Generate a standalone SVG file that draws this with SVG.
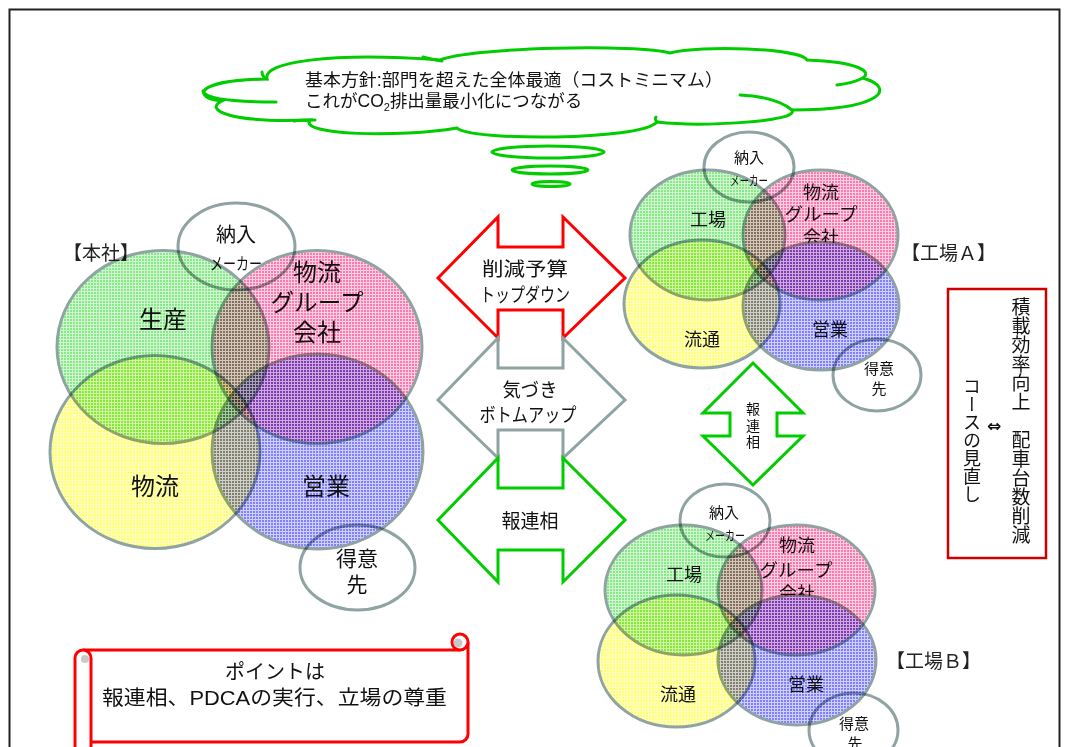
<svg xmlns="http://www.w3.org/2000/svg" width="1067" height="747" viewBox="0 0 1067 747">
<style>
.c{stroke:#8fa3a3;stroke-width:3;mix-blend-mode:multiply}
.w{fill:#fff;stroke:#8fa3a3;stroke-width:3}
.t{font-family:'Liberation Sans','Noto Sans CJK JP',sans-serif;fill:#111;text-anchor:middle}
.ts{font-family:'Liberation Serif','Noto Sans CJK JP',serif;fill:#222}
.arr{fill:#fff;stroke-width:3;stroke-linejoin:miter}
.cl{fill:none;stroke:#00cc00;stroke-width:3;stroke-linecap:round}
</style>
<defs>
<pattern id="pG" width="3" height="3" patternUnits="userSpaceOnUse"><rect width="3" height="3" fill="#86e886"/><path d="M0,0.5H3M0.5,0V3" stroke="#d2f6d2" stroke-width="1"/></pattern>
<pattern id="pP" width="3" height="3" patternUnits="userSpaceOnUse"><rect width="3" height="3" fill="#fc7aae"/><path d="M0,0.5H3M0.5,0V3" stroke="#ffd0e2" stroke-width="1"/></pattern>
<pattern id="pY" width="3" height="3" patternUnits="userSpaceOnUse"><rect width="3" height="3" fill="#ffff70"/><path d="M0,0.5H3M0.5,0V3" stroke="#ffffc8" stroke-width="1"/></pattern>
<pattern id="pB" width="3" height="3" patternUnits="userSpaceOnUse"><rect width="3" height="3" fill="#8080ff"/><path d="M0,0.5H3M0.5,0V3" stroke="#d0d0ff" stroke-width="1"/></pattern>
<clipPath id="clipA"><path clip-rule="evenodd" d="M700,150H950V400H700Z M743,306a78,64 0 1,0 156,0a78,64 0 1,0 -156,0Z"/></clipPath>
<clipPath id="clipB"><path clip-rule="evenodd" d="M700,500H950V760H700Z M718,660a79,65 0 1,0 158,0a79,65 0 1,0 -158,0Z"/></clipPath>
</defs>
<rect width="1067" height="747" fill="#fff"/>
<rect x="9.5" y="9.5" width="1050" height="800" fill="none" stroke="#222" stroke-width="2"/>

<g id="cloud">
<path d="M222,101 C192,98 193,80 267,79 C262,62 330,52 440,60 C470,47 640,44 670,53 C700,45 800,48 807,60 C860,62 872,72 863,78 C897,88 882,110 792,110 C800,122 700,127 657,122 C640,141 470,141 457,128 C400,138 298,135 310,120 C230,123 203,110 222,101 Z" fill="#fff" stroke="#00cc00" stroke-width="3"/>
<path class="cl" d="M203,91 C206,100 240,102 276,102"/>
<path class="cl" d="M262,72 C262,76 265,78 267,79"/>
<path class="cl" d="M294,121 C300,120 305,120 315,120"/>
<path class="cl" d="M423,57 C430,59 436,60 442,61"/>
<path class="cl" d="M863,78 C855,82 846,84 837,85"/>
<path class="cl" d="M792,110 C780,100 760,96 740,95"/>
<path class="cl" d="M657,122 C655,120 655,118 656,117"/>
<ellipse cx="548" cy="152" rx="56" ry="6" class="cl"/>
<ellipse cx="550" cy="170" rx="38" ry="4" class="cl"/>
<ellipse cx="551" cy="184" rx="19" ry="2.5" class="cl"/>
<text class="t" style="text-anchor:start" x="305" y="86" font-size="17.5" textLength="418" lengthAdjust="spacingAndGlyphs">基本方針:部門を超えた全体最適（コストミニマム）</text>
<text class="t" style="text-anchor:start" x="305" y="107" font-size="17.5">これがCO<tspan font-size="11" dy="4">2</tspan><tspan dy="-4">排出量最小化につながる</tspan></text>
</g>

<g id="honsha">
<text class="ts" x="63" y="260" font-size="19">【本社】</text>
<g id="honsha-nonyu"><ellipse class="w" cx="236.5" cy="246.5" rx="58.5" ry="43.5"/>
<text class="t" x="236" y="242" font-size="20">納入</text>
<text class="t" x="236" y="270" font-size="17" textLength="52" lengthAdjust="spacingAndGlyphs">メーカー</text></g>
<g id="honsha-tokui"><ellipse class="w" cx="357.5" cy="567.5" rx="57.5" ry="42.5"/>
<text class="t" x="357" y="566" font-size="21">得意</text>
<text class="t" x="357" y="592" font-size="21">先</text></g>
<g id="honsha-seisan"><ellipse class="c" fill="url(#pG)" cx="163" cy="347" rx="106" ry="96.5"/>
<text class="t" x="163" y="328" font-size="24">生産</text></g>
<g id="honsha-group"><ellipse class="c" fill="url(#pP)" cx="317" cy="347" rx="105" ry="96.5"/>
<text class="t" x="317" y="281" font-size="24">物流</text>
<text class="t" x="317" y="311" font-size="24" textLength="93" lengthAdjust="spacingAndGlyphs">グループ</text>
<text class="t" x="317" y="341" font-size="24">会社</text></g>
<g id="honsha-butsuryu"><ellipse class="c" fill="url(#pY)" cx="155" cy="452" rx="105" ry="96.5"/>
<text class="t" x="155" y="495" font-size="24">物流</text></g>
<g id="honsha-eigyo"><ellipse class="c" fill="url(#pB)" cx="317.5" cy="451.5" rx="105.5" ry="97.5"/>
<text class="t" x="326" y="495" font-size="24">営業</text></g>
</g>

<g id="arrow-topdown">
<path class="arr" stroke="#ff0000" d="M438,278 L498,217 V247 H563 V217 L625,278 L563,338 V310 H498 V338 Z"/>
<text class="t" x="525" y="276" font-size="19" textLength="86" lengthAdjust="spacingAndGlyphs">削減予算</text>
<text class="t" x="525" y="302" font-size="19" textLength="90" lengthAdjust="spacingAndGlyphs">トップダウン</text>
</g>
<g id="arrow-bottomup">
<path class="arr" stroke="#8fa3a3" d="M438,400 L498,338 V368 H563 V338 L625,400 L563,458 V430 H498 V458 Z"/>
<text class="t" x="530" y="397" font-size="19" textLength="55" lengthAdjust="spacingAndGlyphs">気づき</text>
<text class="t" x="528" y="422" font-size="19" textLength="97" lengthAdjust="spacingAndGlyphs">ボトムアップ</text>
</g>
<g id="arrow-hourensou">
<path class="arr" stroke="#00cc00" d="M438,520 L498,458 V488 H563 V458 L625,520 L563,582 V550 H498 V582 Z"/>
<text class="t" x="530" y="528" font-size="19">報連相</text>
</g>
<g id="arrow-vertical">
<path class="arr" stroke="#00cc00" d="M753,363 L803,413 H777 V436 H803 L753,485 L703,436 H730 V413 H703 Z"/>
<text class="t" x="753" y="414" font-size="14">報</text>
<text class="t" x="753" y="431" font-size="14">連</text>
<text class="t" x="753" y="447" font-size="14">相</text>
</g>

<g id="factoryA">
<text class="ts" x="901" y="260" font-size="19">【工場Ａ】</text>
<g id="A-nonyu"><ellipse class="w" cx="749" cy="167" rx="45" ry="35"/>
<text class="t" x="749" y="163" font-size="15">納入</text>
<text class="t" x="749" y="185" font-size="13" textLength="38" lengthAdjust="spacingAndGlyphs">メーカー</text></g>
<g id="A-tokui"><ellipse class="w" cx="877" cy="375" rx="44" ry="36"/>
<text class="t" x="879" y="374" font-size="15">得意</text>
<text class="t" x="879" y="394" font-size="15">先</text></g>
<g id="A-kojo"><ellipse class="c" fill="url(#pG)" cx="707.5" cy="235" rx="77.5" ry="65"/>
<text class="t" x="708" y="226" font-size="18">工場</text></g>
<g id="A-group"><ellipse class="c" fill="url(#pP)" cx="820.5" cy="235" rx="77.5" ry="65"/>
<text class="t" x="821" y="199" font-size="18">物流</text>
<text class="t" x="821" y="221" font-size="18" textLength="73" lengthAdjust="spacingAndGlyphs">グループ</text>
<text class="t" x="821" y="244" font-size="18" clip-path="url(#clipA)">会社</text></g>
<g id="A-ryutsu"><ellipse class="c" fill="url(#pY)" cx="702" cy="304" rx="78" ry="64"/>
<text class="t" x="702" y="346" font-size="18">流通</text></g>
<g id="A-eigyo"><ellipse class="c" fill="url(#pB)" cx="821" cy="306" rx="78" ry="64"/>
<text class="t" x="830" y="336" font-size="18">営業</text></g>
</g>

<g id="note">
<rect x="948" y="289" width="98" height="269" fill="#fff" stroke="#cc0000" stroke-width="2.5"/>
<text class="t" style="writing-mode:vertical-rl;text-anchor:start" x="1019" y="297" font-size="19">積載効率向上　配車台数削減</text>
<text x="994" y="432" font-size="17" font-weight="bold" text-anchor="middle" font-family="'DejaVu Sans',sans-serif" fill="#111">⇔</text>
<text class="t" style="writing-mode:vertical-rl;text-anchor:start" x="970" y="377" font-size="18">コースの見直し</text>
</g>

<g id="factoryB">
<text class="ts" x="886" y="668" font-size="19">【工場Ｂ】</text>
<g id="B-nonyu"><ellipse class="w" cx="725" cy="520.5" rx="45" ry="36.5"/>
<text class="t" x="724" y="518" font-size="15">納入</text>
<text class="t" x="725" y="540" font-size="13" textLength="40" lengthAdjust="spacingAndGlyphs">メーカー</text></g>
<g id="B-tokui"><ellipse class="w" cx="853.5" cy="730" rx="44.5" ry="37"/>
<text class="t" x="854" y="729" font-size="15">得意</text>
<text class="t" x="855" y="749" font-size="15">先</text></g>
<g id="B-kojo"><ellipse class="c" fill="url(#pG)" cx="683.5" cy="590" rx="78.5" ry="65"/>
<text class="t" x="684" y="581" font-size="18">工場</text></g>
<g id="B-group"><ellipse class="c" fill="url(#pP)" cx="796.5" cy="590" rx="78.5" ry="65"/>
<text class="t" x="797" y="552" font-size="18">物流</text>
<text class="t" x="796" y="577" font-size="18" textLength="73" lengthAdjust="spacingAndGlyphs">グループ</text>
<text class="t" x="797" y="600" font-size="18" clip-path="url(#clipB)">会社</text></g>
<g id="B-ryutsu"><ellipse class="c" fill="url(#pY)" cx="676.5" cy="661" rx="78.5" ry="66"/>
<text class="t" x="678" y="701" font-size="18">流通</text></g>
<g id="B-eigyo"><ellipse class="c" fill="url(#pB)" cx="797" cy="660" rx="79" ry="65"/>
<text class="t" x="806" y="691" font-size="18">営業</text></g>
</g>

<g id="point">
<rect x="91" y="650" width="377" height="92" fill="#fff"/>
<path d="M83,650 H460 M468,642 V734 A8,8 0 0 1 460,742 H91" fill="none" stroke="#ff0000" stroke-width="3"/>
<circle cx="460" cy="642" r="8" fill="#fff" stroke="#ff0000" stroke-width="3"/>
<circle cx="458" cy="643" r="4.5" fill="#c8c8c8"/>
<path d="M75,760 V658 A8,8 0 0 1 91,658 V760" fill="#fff" stroke="#ff0000" stroke-width="3"/>
<circle cx="85" cy="659" r="4" fill="#c8c8c8"/>
<text class="t" x="275" y="679" font-size="20">ポイントは</text>
<text class="t" x="274.5" y="705" font-size="20.5" textLength="345" lengthAdjust="spacingAndGlyphs">報連相、PDCAの実行、立場の尊重</text>
</g>
<g id="connectors"/>
</svg>
